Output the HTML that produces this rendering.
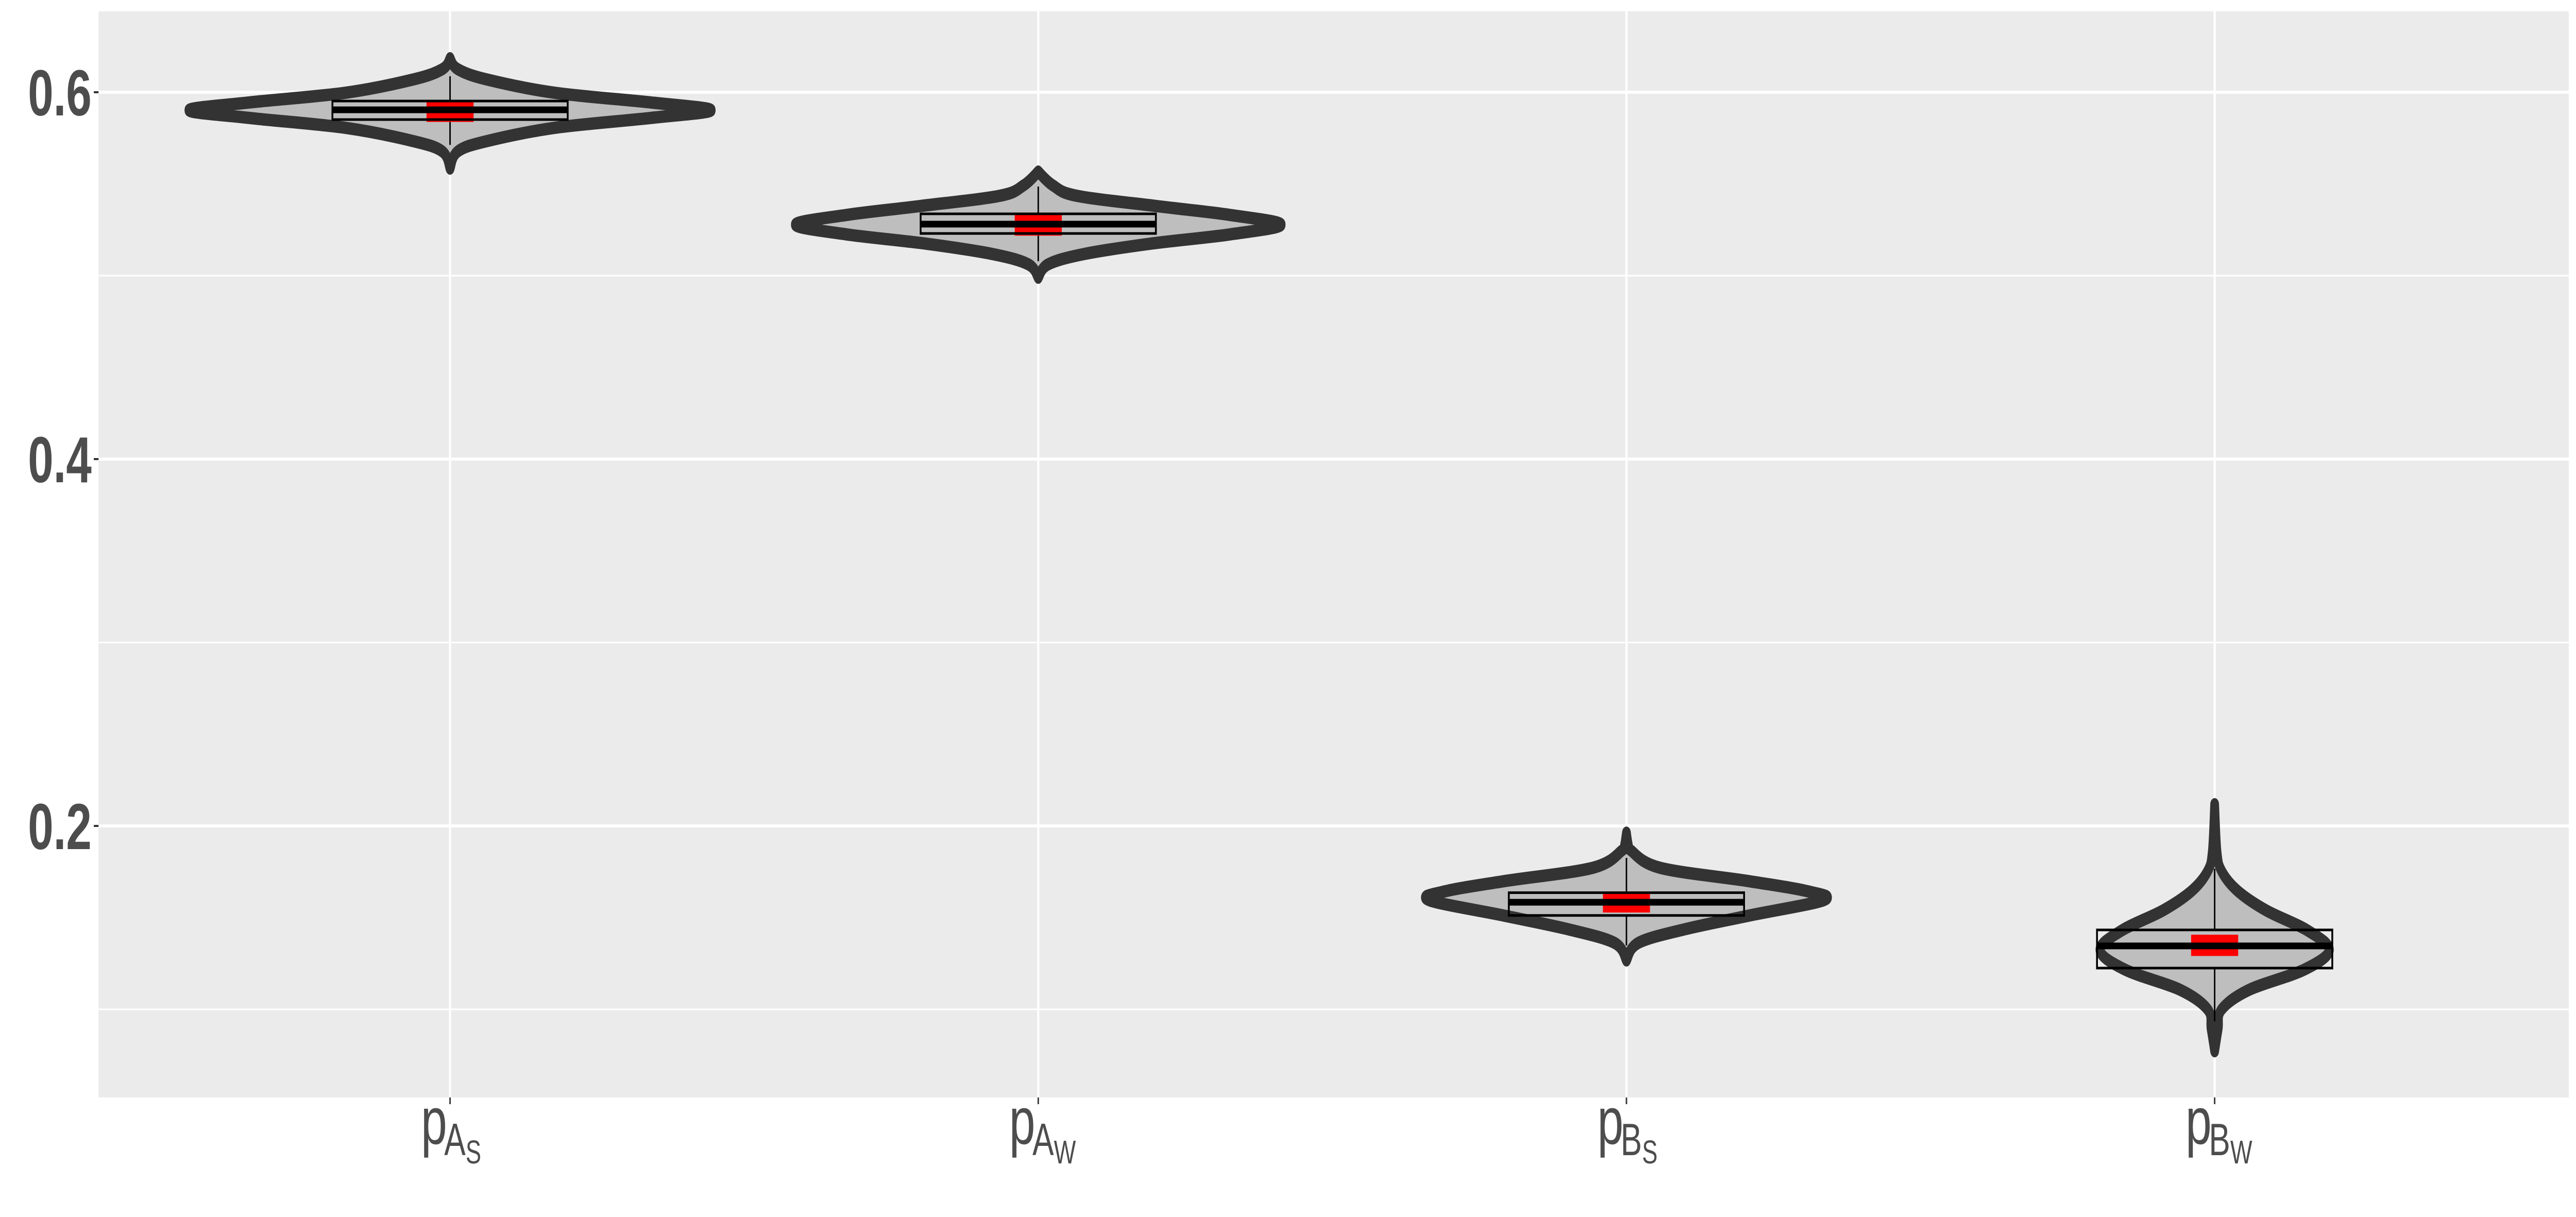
<!DOCTYPE html>
<html><head><meta charset="utf-8"><style>
html,body{margin:0;padding:0;background:#fff;overflow:hidden;width:100vw;height:100vh}
svg{display:block;width:100vw;height:100vh}
text{font-family:"Liberation Sans",sans-serif;fill:#4d4d4d}
</style></head><body>
<svg id="chart" viewBox="0 0 7086 2362" preserveAspectRatio="none" xmlns="http://www.w3.org/2000/svg">
<rect x="0" y="0" width="7086" height="2362" fill="#ffffff"/>
<rect x="271" y="22" width="6795" height="2108" fill="#EBEBEB"/>
<g id="grid"></g>
<g id="marks"></g>
<g id="axes"></g>
</svg>
<script>
// ---- data ----
const categories = ["A_S", "A_W", "B_S", "B_W"];
const majorTicks = [0.2, 0.4, 0.6];
const majorTickLabels = ["0.2", "0.4", "0.6"];
const minorTicks = [0.1, 0.3, 0.5];
// violin profiles: value (y) and half-width (category units)
const profA_S_vals = [0.6185,0.6126,0.6070,0.5997,0.5944,0.5902,0.5860,0.5806,0.5733,0.5677,0.5584];
const profA_S_wid  = [0,0.013,0.062,0.178,0.342,0.444,0.342,0.178,0.062,0.013,0];
const profA_W_vals = [0.5567,0.5492,0.5435,0.5379,0.5331,0.5278,0.5225,0.5174,0.5118,0.5062,0.4989];
const profA_W_wid  = [0,0.025,0.066,0.202,0.326,0.413,0.326,0.190,0.078,0.017,0];
const profB_S_vals = [0.1963,0.1900,0.1868,0.1772,0.1699,0.1643,0.1596,0.1511,0.1435,0.1362,0.1267];
const profB_S_wid  = [0,0.003,0.007,0.057,0.208,0.309,0.336,0.208,0.097,0.020,0];
const profB_W_vals = [0.2118,0.1860,0.1753,0.1646,0.1539,0.1430,0.1323,0.1216,0.1107,0.1000,0.0893,0.0772];
const profB_W_wid  = [0,0.004,0.012,0.039,0.088,0.158,0.195,0.152,0.059,0.012,0.006,0];
// box plot stats
const medians  = [0.5904, 0.5281, 0.1584, 0.1346];
const q1s      = [0.5851, 0.5230, 0.1512, 0.1225];
const q3s      = [0.5952, 0.5337, 0.1636, 0.1433];
const whiskLo  = [0.5713, 0.5079, 0.1348, 0.0935];
const whiskHi  = [0.6087, 0.5486, 0.1826, 0.1767];
// mean markers (red)
const means    = [0.5896, 0.5275, 0.1584, 0.1349];
const meanHalf = [0.0058, 0.0057, 0.0056, 0.0058];

// ---- scales ----
const xLeft = 271, xRight = 7066, yTop = 22, yBot = 2130;
const catStep = 1618, cat0 = 1238;
function xs(i, off){ return cat0 + (i + (off||0)) * catStep; }
function ys(v){ return 179 + (0.6 - v) * 3560; }

const NS = "http://www.w3.org/2000/svg";
function mk(tag, attrs, parent){
  const e = document.createElementNS(NS, tag);
  for (const k in attrs) e.setAttribute(k, attrs[k]);
  parent.appendChild(e); return e;
}
const grid = document.getElementById('grid');
const marks = document.getElementById('marks');
const axes = document.getElementById('axes');

minorTicks.forEach(v => {
  const l = mk('line', {x1:xLeft, x2:xRight, y1:ys(v), y2:ys(v), stroke:'#fff', 'stroke-width':3}, grid);
  
  
});
majorTicks.forEach(v => {
  const l = mk('line', {x1:xLeft, x2:xRight, y1:ys(v), y2:ys(v), stroke:'#fff', 'stroke-width':6}, grid);
  
  
});
categories.forEach((c, i) => {
  const l = mk('line', {x1:xs(i), x2:xs(i), y1:yTop, y2:yBot, stroke:'#fff', 'stroke-width':6}, grid);
  
  
});

function smooth(pts){
  let d = `M${pts[0][0]},${pts[0][1]}`;
  for (let i = 0; i < pts.length - 1; i++){
    const p0 = pts[Math.max(0,i-1)], p1 = pts[i], p2 = pts[i+1], p3 = pts[Math.min(pts.length-1,i+2)];
    const c1 = [p1[0] + (p2[0]-p0[0])/6, p1[1] + (p2[1]-p0[1])/6];
    const c2 = [p2[0] - (p3[0]-p1[0])/6, p2[1] - (p3[1]-p1[1])/6];
    d += ` C${c1[0]},${c1[1]} ${c2[0]},${c2[1]} ${p2[0]},${p2[1]}`;
  }
  return d;
}
const profVals = [profA_S_vals, profA_W_vals, profB_S_vals, profB_W_vals];
const profWid  = [profA_S_wid, profA_W_wid, profB_S_wid, profB_W_wid];

categories.forEach((c, i) => {
  const vals = profVals[i], wid = profWid[i];
  const right = vals.map((v, k) => [xs(i, wid[k]), ys(v)]);
  const left = vals.map((v, k) => [xs(i, -wid[k]), ys(v)]).reverse();
  const d = smooth(right) + ' ' + smooth(left).replace(/^M/, 'L') + ' Z';
  const p = mk('path', {d, fill:'#BEBEBE', stroke:'#333333', 'stroke-width':24, 'stroke-linejoin':'round'}, marks);
  
  

  const w1 = mk('line', {x1:xs(i), x2:xs(i), y1:ys(whiskHi[i]), y2:ys(q3s[i]), stroke:'#000', 'stroke-width':4}, marks);
  
  
  const w2 = mk('line', {x1:xs(i), x2:xs(i), y1:ys(q1s[i]), y2:ys(whiskLo[i]), stroke:'#000', 'stroke-width':4}, marks);
  
  

  const r = mk('rect', {x:xs(i,-0.04), y:ys(means[i]+meanHalf[i]), width:0.08*catStep, height:ys(means[i]-meanHalf[i])-ys(means[i]+meanHalf[i]), fill:'#FF0000'}, marks);
  
  

  const b = mk('rect', {x:xs(i,-0.2), y:ys(q3s[i]), width:0.4*catStep, height:ys(q1s[i])-ys(q3s[i]), fill:'none', stroke:'#000', 'stroke-width':5}, marks);
  
  
  const m = mk('line', {x1:xs(i,-0.2), x2:xs(i,0.2), y1:ys(medians[i]), y2:ys(medians[i]), stroke:'#000', 'stroke-width':13}, marks);
  
  
});

majorTicks.forEach((v, k) => {
  const t = mk('line', {x1:258, x2:271, y1:ys(v), y2:ys(v), stroke:'#333', 'stroke-width':4}, axes);
  
  
  const tx = mk('text', {x:252, y:ys(v)+45, 'text-anchor':'end', 'font-size':126, 'font-weight':'bold'}, axes);
  tx.textContent = majorTickLabels[k];
  
  
});
const mainSub = ["A","A","B","B"], subSub = ["S","W","S","W"];
categories.forEach((c, i) => {
  const t = mk('line', {x1:xs(i), x2:xs(i), y1:2130, y2:2143, stroke:'#333', 'stroke-width':4}, axes);
  
  
  const g = mk('g', {}, axes);
  
  
  const x0 = xs(i) - 80;
  const p = mk('text', {x:x0, y:2220, 'font-size':129}, g); p.textContent = 'p';
  const a = mk('text', {x:x0+64, y:2242, 'font-size':88}, g); a.textContent = mainSub[i];
  const s = mk('text', {x:x0+123, y:2258, 'font-size':64}, g); s.textContent = subSub[i];
});
</script>
</body></html>
